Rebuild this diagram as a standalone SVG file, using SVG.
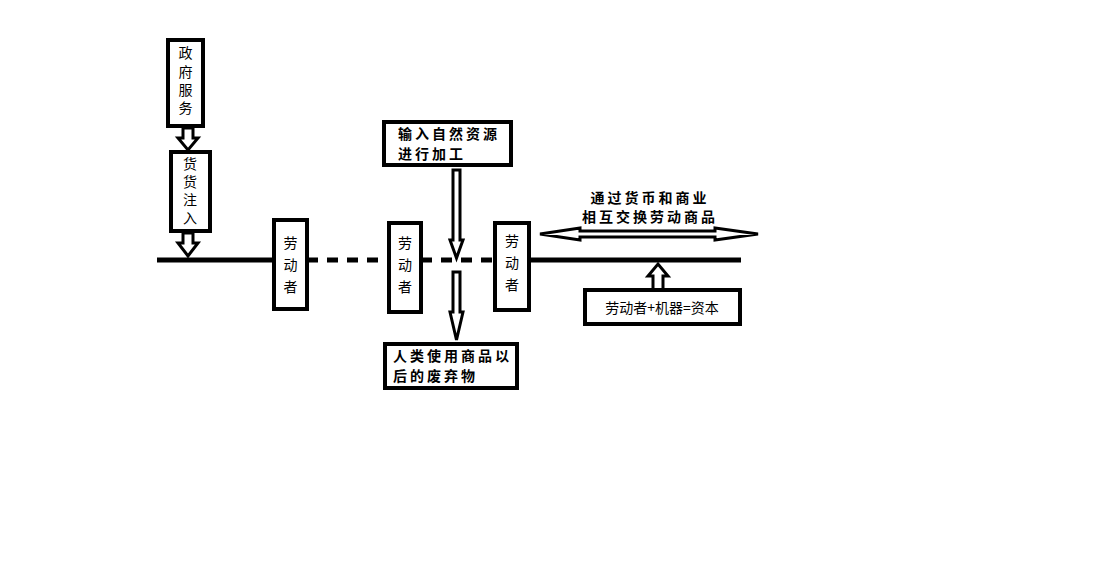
<svg xmlns="http://www.w3.org/2000/svg" width="1104" height="565" viewBox="0 0 1104 565">
<style>
.b{fill:#fff;stroke:#000;stroke-width:4}
.h{fill:#fff;stroke:#000;stroke-width:3}
.t{font-family:"Noto Sans CJK SC",sans-serif;font-size:14px;fill:#000}
.tb{font-family:"Noto Sans CJK SC",sans-serif;font-size:14px;font-weight:bold;fill:#000}
</style>
<rect width="1104" height="565" fill="#fff"/>
<g id="connectors">
<line x1="157" y1="260" x2="275" y2="260" stroke="#000" stroke-width="5"/>
<line x1="307" y1="260" x2="390" y2="260" stroke="#000" stroke-width="5" stroke-dasharray="11,9"/>
<line x1="421" y1="260" x2="495" y2="260" stroke="#000" stroke-width="5" stroke-dasharray="11,9"/>
<line x1="529" y1="260" x2="741" y2="260" stroke="#000" stroke-width="5"/>
<polygon class="h" points="183,128 193,128 193,138 198,138 188,150 178,138 183,138"/>
<polygon class="h" points="183,233 193,233 193,243 198,243 188,256 178,243 183,243"/>
<polygon class="h" points="453,170 460,170 460,240 463,240 456.5,258 450,240 453,240"/>
<polygon class="h" points="453,272 460,272 460,312 463,312 456.5,340 450,312 453,312"/>
<polygon class="h" points="653,290 663,290 663,276 668,276 658,264 648,276 653,276"/>
<polygon class="h" points="540,234 580,228 580,231 715,231 715,228 758,234 715,240 715,237 580,237 580,240"/>
</g>
<g id="gov"><rect class="b" x="168" y="40" width="35" height="86"/>
<text class="t" x="185.5" y="58" text-anchor="middle">政</text><text class="t" x="185.5" y="77" text-anchor="middle">府</text><text class="t" x="185.5" y="95" text-anchor="middle">服</text><text class="t" x="185.5" y="113" text-anchor="middle">务</text></g>
<g id="money"><rect class="b" x="171" y="152" width="39" height="79"/>
<text class="t" x="190" y="169" text-anchor="middle">货</text><text class="t" x="190" y="187" text-anchor="middle">货</text><text class="t" x="190" y="205" text-anchor="middle">注</text><text class="t" x="190" y="223" text-anchor="middle">入</text></g>
<g id="w1"><rect class="b" x="274" y="220" width="33" height="89"/>
<text class="t" x="290.5" y="248" text-anchor="middle">劳</text><text class="t" x="290.5" y="270" text-anchor="middle">动</text><text class="t" x="290.5" y="292" text-anchor="middle">者</text></g>
<g id="w2"><rect class="b" x="389" y="223" width="32" height="89"/>
<text class="t" x="405" y="248" text-anchor="middle">劳</text><text class="t" x="405" y="270" text-anchor="middle">动</text><text class="t" x="405" y="292" text-anchor="middle">者</text></g>
<g id="w3"><rect class="b" x="495" y="223" width="34" height="87"/>
<text class="t" x="512" y="246" text-anchor="middle">劳</text><text class="t" x="512" y="268" text-anchor="middle">动</text><text class="t" x="512" y="290" text-anchor="middle">者</text></g>
<g id="input"><rect class="b" x="384" y="122" width="127" height="43"/>
<text class="tb" x="398" y="139" letter-spacing="3">输入自然资源</text><text class="tb" x="398" y="159" letter-spacing="3">进行加工</text></g>
<g id="waste"><rect class="b" x="385" y="344" width="132" height="44"/>
<text class="tb" x="393" y="361" letter-spacing="3">人类使用商品以</text><text class="tb" x="393" y="381" letter-spacing="3">后的废弃物</text></g>
<g id="exchange"><text class="tb" x="650" y="203" text-anchor="middle" letter-spacing="3">通过货币和商业</text>
<text class="tb" x="650" y="222" text-anchor="middle" letter-spacing="3">相互交换劳动商品</text></g>
<g id="capital"><rect class="b" x="585" y="290" width="155" height="34"/>
<text class="t" x="662" y="313" text-anchor="middle">劳动者+机器=资本</text></g>
</svg>
